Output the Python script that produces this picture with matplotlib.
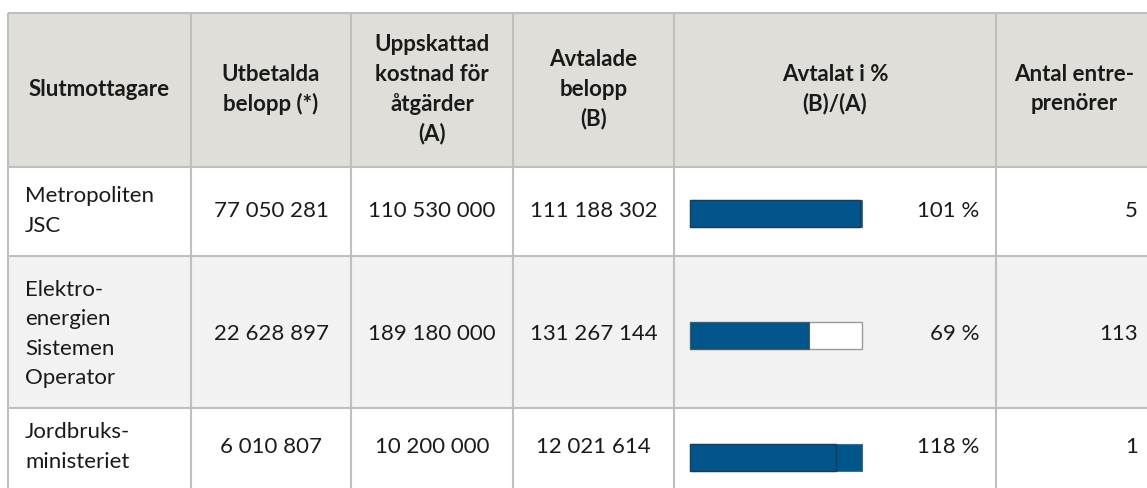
import matplotlib.pyplot as plt
from matplotlib.patches import Rectangle

# ---- data ----
headers = ['Slutmottagare', 'Utbetalda\nbelopp (*)', 'Uppskattad\nkostnad för\nåtgärder\n(A)',
           'Avtalade\nbelopp\n(B)', 'Avtalat i %\n(B)/(A)', 'Antal entre-\nprenörer']
recipients = ['Metropoliten\nJSC', 'Elektro-\nenergien\nSistemen\nOperator', 'Jordbruks-\nministeriet']
paid = ['77 050 281', '22 628 897', '6 010 807']
estimated = ['110 530 000', '189 180 000', '10 200 000']
agreed = ['111 188 302', '131 267 144', '12 021 614']
pct = [101, 69, 118]
contractors = [5, 113, 1]

# ---- layout (pixels) ----
W, H = 1147, 488
col_edges = [8, 191, 351, 513, 674, 996, 1165]
row_edges = [13, 167, 256, 408, 500]
text_yc = [211, 334, 447]
bar_yc = [213, 335, 457]
bar_x0, bar_w, bar_h = 690, 172, 27
lh = 29.5  # line height

header_bg = '#dfded8'
alt_bg = '#f2f2f2'
grid = '#bfbfbf'
blue = '#02558b'
dark = '#1c3a58'
txt = '#1a1a1a'
FONT = 'Lato'
fs = 16

fig = plt.figure(figsize=(W / 100, H / 100), dpi=100)
ax = fig.add_axes([0, 0, 1, 1])
ax.set_xlim(0, W)
ax.set_ylim(H, 0)
ax.axis('off')

x_left, x_right = col_edges[0], col_edges[-1]
# backgrounds
ax.add_patch(Rectangle((x_left, row_edges[0]), x_right - x_left, row_edges[1] - row_edges[0],
                       facecolor=header_bg, edgecolor='none'))
ax.add_patch(Rectangle((x_left, row_edges[2]), x_right - x_left, row_edges[3] - row_edges[2],
                       facecolor=alt_bg, edgecolor='none'))
# grid lines
for y in row_edges[:-1]:
    ax.plot([x_left, x_right], [y, y], color=grid, lw=1.5, solid_capstyle='butt')
for x in col_edges[:-1]:
    ax.plot([x, x], [row_edges[0], row_edges[-1]], color=grid, lw=1.5, solid_capstyle='butt')


def lines(x, yc, s, ha, weight='normal'):
    parts = s.split('\n')
    n = len(parts)
    for i, p in enumerate(parts):
        y = yc + (i - (n - 1) / 2) * lh
        ax.text(x, y, p, ha=ha, va='center', fontsize=fs, family=FONT,
                weight=weight, color=txt)


# header
for i, h in enumerate(headers):
    xc = (col_edges[i] + col_edges[i + 1]) / 2
    if i == 5:
        xc = 1074
    lines(xc, 89, h, 'center', 'bold')

# body
for r in range(len(recipients)):
    yc = text_yc[r]
    lines(25, yc, recipients[r], 'left')
    for c, col in zip([1, 2, 3], [paid, estimated, agreed]):
        xc = (col_edges[c] + col_edges[c + 1]) / 2
        lines(xc, yc, col[r], 'center')
    lines(979, yc, '%d %%' % pct[r], 'right')
    lines(1138, yc, str(contractors[r]), 'right')

    # bar
    by = bar_yc[r] - bar_h / 2
    p = pct[r]
    if p <= 100:
        ax.add_patch(Rectangle((bar_x0, by), bar_w, bar_h, facecolor='white',
                               edgecolor='#9a9a9a', lw=1.0))
        ax.add_patch(Rectangle((bar_x0, by), bar_w * p / 100, bar_h, facecolor=blue,
                               edgecolor='#4a5a6a', lw=0.8))
    else:
        ax.add_patch(Rectangle((bar_x0, by), bar_w, bar_h, facecolor=blue,
                               edgecolor='#3d6e94', lw=0.8))
        ax.add_patch(Rectangle((bar_x0, by), bar_w * 100 / p, bar_h, facecolor=blue,
                               edgecolor=dark, lw=1.0))

fig.savefig('out.png', dpi=100)
